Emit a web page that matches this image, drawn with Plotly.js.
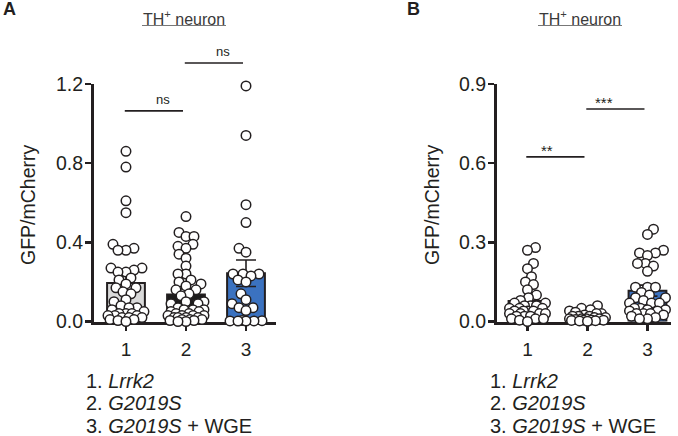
<!DOCTYPE html>
<html><head><meta charset="utf-8">
<script src="https://cdn.plot.ly/plotly-3.0.1.min.js"></script>
<style>html,body{margin:0;padding:0;background:#fff;}</style>
</head><body>
<div id="chart" style="width:678px;height:436px;"></div>
<script>
// ---------- data ----------
const categories = [1, 2, 3];
const tickLabels = ['1', '2', '3'];
const groupLabels = ['1. <i>Lrrk2</i>', '2. <i>G2019S</i>', '3. <i>G2019S</i> + WGE'];
const panelTitle = 'TH<sup>+</sup> neuron';
const yTitle = 'GFP/mCherry';

// Panel A
const aMeans = [0.195, 0.136, 0.244];
const aSem = [0.035, 0.029, 0.067];
const aGroup1 = [0.86, 0.78, 0.61, 0.55, 0.39, 0.37, 0.36, 0.36,
  0.27, 0.27, 0.26, 0.25, 0.25, 0.22, 0.21, 0.19, 0.17, 0.17, 0.15, 0.14,
  0.11, 0.10, 0.08, 0.07, 0.07, 0.06, 0.05, 0.04, 0.04, 0.04, 0.03, 0.03, 0.03,
  0.02, 0.02, 0.02, 0.01, 0.01, 0.005, 0.0];
const aGroup2 = [0.53, 0.45, 0.43, 0.43, 0.39, 0.38, 0.37, 0.34, 0.32, 0.28, 0.24, 0.24,
  0.21, 0.20, 0.19, 0.18, 0.16, 0.16, 0.14, 0.13, 0.10, 0.10, 0.09, 0.09,
  0.07, 0.06, 0.06, 0.06, 0.05, 0.05, 0.04, 0.04, 0.03, 0.03, 0.03, 0.03,
  0.02, 0.02, 0.02, 0.02, 0.01, 0.01, 0.01, 0.005, 0.005, 0.0, 0.0];
const aGroup3 = [1.19, 0.94, 0.59, 0.50, 0.37, 0.35, 0.24, 0.24, 0.23, 0.24, 0.21, 0.20,
  0.14, 0.11, 0.09, 0.07, 0.07, 0.055, 0.005, 0.004, 0.003, 0.003, 0.002, 0.002];
const aSigFrom = [1, 2];
const aSigTo = [2, 3];
const aSigLevel = [1.064, 1.306];
const aSigText = ['ns', 'ns'];

// Panel B
const bMeans = [0.078, 0.018, 0.117];
const bSem = [0.016, 0.004, 0.021];
const bGroup1 = [0.28, 0.27, 0.22, 0.20, 0.17, 0.15, 0.14, 0.12, 0.10, 0.09, 0.08,
  0.07, 0.07, 0.06, 0.06, 0.06, 0.05, 0.05, 0.05, 0.04, 0.04, 0.04, 0.04,
  0.03, 0.03, 0.03, 0.03, 0.02, 0.02, 0.02, 0.01, 0.01, 0.01, 0.005, 0.0];
const bGroup2 = [0.06, 0.05, 0.045, 0.04, 0.035, 0.03, 0.03, 0.025, 0.02, 0.02, 0.02,
  0.015, 0.015, 0.01, 0.01, 0.01, 0.01, 0.008, 0.006, 0.005, 0.005, 0.004, 0.003, 0.002, 0.001];
const bGroup3 = [0.35, 0.33, 0.27, 0.26, 0.26, 0.25, 0.22, 0.22, 0.21, 0.19,
  0.13, 0.13, 0.13, 0.11, 0.10, 0.09, 0.09, 0.08, 0.07, 0.07, 0.07,
  0.05, 0.05, 0.045, 0.045, 0.04, 0.04, 0.03, 0.03, 0.03, 0.025, 0.02, 0.015, 0.01, 0.01];
const bSigFrom = [1, 2];
const bSigTo = [2, 3];
const bSigLevel = [0.624, 0.805];
const bSigText = ['**', '***'];

// ---------- styles / geometry ----------
const W = 678, H = 436;
const INK = '#231f20';
const barColors = ['#d9d9d9', '#1c1c1c', '#3b72c0'];
const yDom = [1 - 321.5 / H, 1 - 84 / H];
const panels = [
  { xa: 'x', ya: 'y', xDom: [94 / W, 276 / W], xRange: [0.467, 3.5], yRange: [0, 1.2], dtick: 0.4,
    means: aMeans, sem: aSem, groups: [aGroup1, aGroup2, aGroup3],
    sigFrom: aSigFrom, sigTo: aSigTo, sigLevel: aSigLevel, sigText: aSigText,
    letter: 'A', letterX: 1, titleX: 184, yTitleX: 28, legendX: 85 },
  { xa: 'x2', ya: 'y2', xDom: [497 / W, 671 / W], xRange: [0.492, 3.392], yRange: [0, 0.9], dtick: 0.3,
    means: bMeans, sem: bSem, groups: [bGroup1, bGroup2, bGroup3],
    sigFrom: bSigFrom, sigTo: bSigTo, sigLevel: bSigLevel, sigText: bSigText,
    letter: 'B', letterX: 405, titleX: 580, yTitleX: 432, legendX: 489 }
];

function toPaperX(p, v) { return p.xDom[0] + (v - p.xRange[0]) / (p.xRange[1] - p.xRange[0]) * (p.xDom[1] - p.xDom[0]); }
function toPaperY(p, v) { return yDom[0] + (v - p.yRange[0]) / (p.yRange[1] - p.yRange[0]) * (yDom[1] - yDom[0]); }

function swarm(vals, yScale, diam, maxHalf) {
  const idx = vals.map((_, i) => i).sort((a, b) => vals[a] - vals[b]);
  const placed = [];
  const offs = new Array(vals.length).fill(0);
  const cands = [0];
  for (let k = 1; k <= maxHalf; k++) { cands.push(k, -k); }
  idx.forEach((i, n) => {
    const y = vals[i] * yScale;
    let best = 0, bestD = -1;
    for (const c0 of cands) {
      const c = (n % 2 ? -c0 : c0);
      let m = Infinity;
      for (const q of placed) { const d = Math.hypot(q.x - c, q.y - y); if (d < m) m = d; }
      if (m >= diam) { best = c; bestD = m; break; }
      if (m > bestD) { bestD = m; best = c; }
    }
    placed.push({ x: best, y: y });
    offs[i] = best;
  });
  return offs;
}

const traces = [];
const shapes = [];
const annotations = [];
const layout = {
  width: W, height: H, margin: { l: 0, r: 0, t: 0, b: 0 },
  paper_bgcolor: '#fff', plot_bgcolor: 'rgba(0,0,0,0)',
  showlegend: false, font: { family: 'Liberation Sans, Arial, sans-serif', color: INK },
  bargap: 0, shapes: shapes, annotations: annotations
};

panels.forEach((p, pi) => {
  const xName = pi === 0 ? 'xaxis' : 'xaxis2';
  const yName = pi === 0 ? 'yaxis' : 'yaxis2';
  layout[xName] = {
    domain: p.xDom, range: p.xRange, anchor: p.ya, showgrid: false, zeroline: false,
    showline: true, linecolor: INK, linewidth: 3, ticks: 'outside', ticklen: 6, tickwidth: 2.5, tickcolor: INK,
    tickvals: categories, ticktext: tickLabels, tickfont: { size: 19, color: INK }, ticklabelstandoff: 3,
    layer: 'below traces', fixedrange: true
  };
  layout[yName] = {
    domain: yDom, range: p.yRange, anchor: p.xa, showgrid: false, zeroline: false,
    showline: true, linecolor: INK, linewidth: 3, ticks: 'outside', ticklen: 6, tickwidth: 2.5, tickcolor: INK,
    dtick: p.dtick, tick0: 0, tickformat: '.1f', tickfont: { size: 19.5, color: INK }, ticklabelstandoff: -2,
    layer: 'below traces', fixedrange: true
  };

  traces.push({
    type: 'bar', x: categories, y: p.means, width: 0.63, xaxis: p.xa, yaxis: p.ya,
    marker: { color: barColors, line: { color: INK, width: 2 } },
    error_y: { type: 'data', array: p.sem, visible: true, color: INK, thickness: 1.6, width: 10 },
    hoverinfo: 'skip'
  });

  const xPxPerUnit = (p.xDom[1] - p.xDom[0]) * W / (p.xRange[1] - p.xRange[0]);
  const yPxPerUnit = (yDom[1] - yDom[0]) * H / (p.yRange[1] - p.yRange[0]);
  p.groups.forEach((vals, gi) => {
    const offs = swarm(vals, yPxPerUnit, 7.5, 18);
    traces.push({
      type: 'scatter', mode: 'markers', xaxis: p.xa, yaxis: p.ya, cliponaxis: false,
      x: vals.map((v, i) => categories[gi] + offs[i] / xPxPerUnit), y: vals,
      marker: { size: 9.5, color: '#ffffff', line: { color: INK, width: 1.5 } },
      hoverinfo: 'y'
    });
  });

  // significance brackets
  p.sigFrom.forEach((f, k) => {
    const x0 = toPaperX(p, f - 0.02), x1 = toPaperX(p, p.sigTo[k] - 0.05);
    const y = toPaperY(p, p.sigLevel[k]);
    shapes.push({ type: 'line', xref: 'paper', yref: 'paper', x0: x0, x1: x1, y0: y, y1: y,
      line: { color: INK, width: 1.6 } });
    annotations.push({ xref: 'paper', yref: 'paper', x: (x0 + x1) / 2, y: y, yanchor: 'bottom',
      yshift: p.sigText[k] === 'ns' ? 2 : -4, showarrow: false, text: p.sigText[k],
      font: { size: p.sigText[k] === 'ns' ? 13 : 15, color: INK } });
  });

  // panel letter
  annotations.push({ xref: 'paper', yref: 'paper', x: p.letterX / W, y: 1 - 9 / H, xanchor: 'left', yanchor: 'middle',
    showarrow: false, text: '<b>' + p.letter + '</b>', font: { size: 18, color: INK } });
  // title + underline
  annotations.push({ xref: 'paper', yref: 'paper', x: p.titleX / W, y: 1 - 18 / H, xanchor: 'center', yanchor: 'middle',
    showarrow: false, text: panelTitle, font: { size: 16, color: '#3a3a3a' } });
  shapes.push({ type: 'line', xref: 'paper', yref: 'paper', x0: (p.titleX - 42) / W, x1: (p.titleX + 42) / W,
    y0: 1 - 25.5 / H, y1: 1 - 25.5 / H, line: { color: '#777', width: 1.2 } });
  // y title
  annotations.push({ xref: 'paper', yref: 'paper', x: p.yTitleX / W, y: 1 - 205 / H, xanchor: 'center', yanchor: 'middle',
    showarrow: false, textangle: -90, text: yTitle, font: { size: 19.5, color: INK } });
  // group key
  groupLabels.forEach((g, gi) => {
    annotations.push({ xref: 'paper', yref: 'paper', x: p.legendX / W, y: 1 - (380.5 + 22.8 * gi) / H,
      xanchor: 'left', yanchor: 'middle', showarrow: false, borderpad: 0, text: g, font: { size: 20, color: INK } });
  });
});

Plotly.newPlot('chart', traces, layout, { staticPlot: true, displayModeBar: false });
</script>
</body></html>
